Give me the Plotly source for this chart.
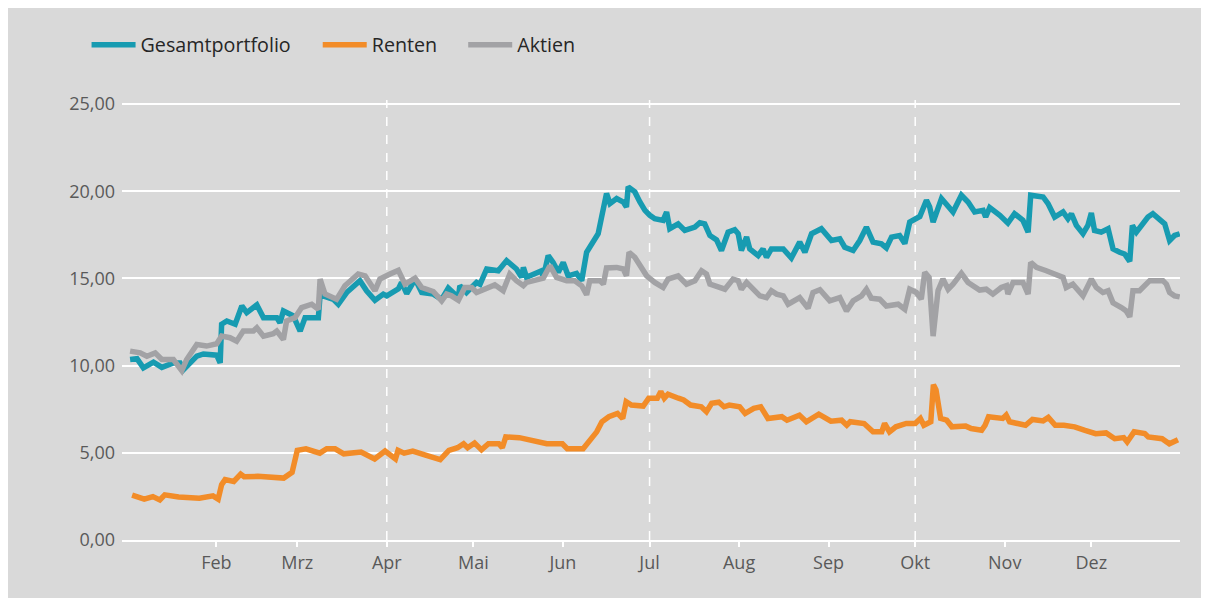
import pandas as pd
import plotly.graph_objects as go

# ---- data (day offsets from 1 Jan, values) ----
gesamt_days = [1.1, 3.5, 5.7, 9.2, 12.1, 16.1, 18.4, 19.6, 24.2, 26.5, 31.1, 32.3, 32.8, 34.6, 37.5, 39.8, 41.5, 45, 47.3, 51.9, 53, 54.2, 57.6, 60, 61.7, 66.3, 66.9, 71.5, 73.2, 76.1, 80.7, 83, 85.9, 88.8, 90, 94, 95.1, 96.9, 99.8, 102.1, 106.1, 109, 111.3, 114.8, 115.3, 117.6, 121.1, 122.3, 124.6, 128.6, 131.5, 134.9, 136.7, 137.3, 138.4, 141.9, 143.6, 144.2, 145.9, 147.6, 149.4, 151.1, 152.8, 155.7, 157.5, 159.2, 161.5, 163.2, 164.4, 166.1, 167.3, 169.6, 171.9, 173, 173.6, 175.9, 177.6, 179.4, 181.1, 182.8, 185.7, 186.9, 188, 190.9, 193.2, 194.9, 196.7, 198.4, 200.1, 201.9, 204.2, 205.9, 208.2, 210.5, 211.7, 212.8, 214.6, 215.7, 218.6, 220.3, 221.5, 223.2, 227.3, 230.1, 233, 234.8, 237.1, 240.5, 244, 246.9, 248.6, 251.5, 253.8, 256.1, 258.4, 261.3, 263, 264.8, 267.6, 269.4, 271.1, 274.6, 276.9, 278, 279.2, 282.1, 283.8, 286.1, 289, 291.3, 293.6, 296.5, 297.4, 298.8, 302.3, 305.1, 307.4, 310.3, 312.1, 313, 317.3, 319, 321.3, 324.2, 325.9, 327.1, 328.8, 331.1, 332.8, 334, 335.1, 337.4, 339.8, 341.5, 343.8, 345.5, 347.3, 348.2, 349.6, 351.3, 353.6, 355.3, 357.1, 359.4, 361.1, 362.8, 364.6]
gesamt_vals = [10.35, 10.4, 9.87, 10.2, 9.9, 10.15, 10.15, 9.77, 10.54, 10.67, 10.6, 10.15, 12.37, 12.56, 12.37, 13.42, 13.04, 13.48, 12.75, 12.75, 12.46, 13.13, 12.85, 11.98, 12.75, 12.75, 14.05, 13.8, 13.52, 14.19, 14.87, 14.29, 13.75, 14.1, 14.0, 14.4, 14.77, 14.13, 14.96, 14.19, 14.1, 13.8, 14.44, 13.9, 14.58, 14.19, 14.77, 14.67, 15.54, 15.44, 16.02, 15.54, 15.06, 15.63, 15.06, 15.35, 15.44, 15.06, 16.31, 15.92, 15.35, 15.92, 15.15, 15.29, 14.87, 16.5, 17.08, 17.56, 18.52, 19.87, 19.29, 19.58, 19.38, 19.1, 20.25, 19.96, 19.4, 18.9, 18.62, 18.42, 18.33, 18.81, 17.85, 18.13, 17.75, 17.85, 17.94, 18.19, 18.13, 17.46, 17.21, 16.6, 17.65, 17.79, 17.56, 16.6, 17.37, 16.69, 16.31, 16.69, 16.21, 16.69, 16.69, 16.17, 17.08, 16.5, 17.56, 17.85, 17.17, 17.27, 16.79, 16.6, 17.17, 17.94, 17.08, 16.98, 16.75, 17.37, 17.46, 17.0, 18.23, 18.55, 19.48, 19.1, 18.23, 19.58, 19.29, 18.81, 19.77, 19.38, 18.81, 18.9, 18.52, 19.06, 18.62, 18.17, 18.71, 18.33, 17.65, 19.77, 19.67, 19.29, 18.52, 18.81, 18.42, 18.71, 18.04, 17.56, 18.04, 18.75, 17.75, 17.65, 17.85, 16.69, 16.5, 16.4, 15.98, 18.04, 17.65, 18.04, 18.52, 18.71, 18.42, 18.13, 17.17, 17.46, 17.56]

renten_days = [1.8, 6, 9, 11.4, 13.1, 17.9, 25.1, 29.8, 31.6, 32.8, 34, 37, 39.4, 40.6, 45.3, 51.9, 54.3, 57.2, 59, 62, 66.8, 69.2, 72.1, 75.1, 81.1, 85.8, 89.4, 93, 93.9, 96, 99, 103.7, 108.5, 111.5, 114.5, 116.6, 118, 120.4, 122.8, 125.2, 128.8, 130, 131.2, 135.9, 138.3, 145.4, 150.8, 152.5, 158, 159.8, 162.7, 164.5, 166.9, 169.9, 171.7, 172.9, 174.7, 178.8, 180.7, 183.7, 184.9, 186.1, 187.4, 191, 192.8, 195.2, 198.9, 200.7, 202.5, 205, 206.8, 208.6, 212.2, 214.1, 217.1, 219.5, 222, 226.8, 228.6, 232.9, 235.3, 239.6, 243.8, 247.5, 249.3, 250.5, 255.3, 258.4, 261.4, 262.4, 264.1, 266.3, 269.9, 273, 274.8, 276, 278.4, 279.3, 280.2, 281.8, 283.9, 285.7, 290.5, 292.4, 296, 297.2, 298.4, 303.3, 304.5, 305.7, 311.2, 313.6, 317.3, 319.1, 321.5, 324.5, 328.2, 331.8, 335.5, 339.1, 342.1, 345.2, 346.4, 348.8, 352.5, 353.7, 358.5, 361, 364]
renten_vals = [2.57, 2.34, 2.49, 2.3, 2.59, 2.47, 2.39, 2.53, 2.34, 3.17, 3.46, 3.36, 3.78, 3.63, 3.65, 3.59, 3.55, 3.88, 5.14, 5.23, 4.98, 5.23, 5.23, 4.94, 5.04, 4.65, 5.1, 4.65, 5.14, 4.98, 5.1, 4.85, 4.61, 5.14, 5.29, 5.52, 5.29, 5.56, 5.17, 5.52, 5.52, 5.29, 5.91, 5.87, 5.77, 5.52, 5.52, 5.23, 5.23, 5.62, 6.2, 6.78, 7.07, 7.26, 6.97, 7.93, 7.74, 7.68, 8.13, 8.13, 8.51, 8.13, 8.36, 8.13, 8.03, 7.74, 7.64, 7.36, 7.84, 7.9, 7.64, 7.74, 7.64, 7.26, 7.55, 7.64, 6.97, 7.07, 6.87, 7.16, 6.78, 7.22, 6.81, 6.87, 6.58, 6.78, 6.68, 6.2, 6.2, 6.68, 6.2, 6.49, 6.68, 6.68, 6.97, 6.58, 6.78, 8.9, 8.61, 6.97, 6.87, 6.49, 6.53, 6.39, 6.29, 6.58, 7.07, 6.97, 7.16, 6.78, 6.58, 6.91, 6.83, 7.03, 6.58, 6.58, 6.49, 6.29, 6.1, 6.14, 5.81, 5.87, 5.62, 6.2, 6.1, 5.91, 5.81, 5.52, 5.75]

aktien_days = [1.1, 4.6, 6.9, 9.8, 12.1, 16.1, 19, 20.7, 24.2, 27.6, 31.1, 32.8, 35.7, 38, 40.3, 43.8, 45, 47.3, 50.7, 51.9, 54.2, 55.3, 58.2, 60.5, 64, 66.3, 66.9, 68.6, 72.6, 75.5, 80.1, 82.5, 85.9, 87.6, 91.1, 94, 96.3, 99.8, 102.1, 106.1, 109, 110.7, 112.4, 114.8, 117, 119.4, 121.1, 123.4, 127.4, 130.3, 132.6, 134.9, 137.3, 138.4, 140.7, 144.2, 146.5, 148.8, 152.3, 155.1, 157.5, 159.2, 160.3, 163.8, 165, 166.1, 169.6, 171.9, 173, 173.9, 175.9, 178.2, 180, 182.8, 185.7, 187.4, 190.9, 193.8, 196.7, 199, 200.7, 201.9, 207.1, 209.9, 211.7, 212.8, 214.6, 219.2, 221.5, 223.2, 225, 227.3, 229, 233, 235.9, 237.6, 240, 243.4, 246.9, 249.2, 251.5, 254.4, 256.1, 257.8, 260.7, 263, 267.1, 269.4, 271.1, 273.4, 275.1, 276.3, 277.8, 279.2, 280.9, 282.6, 284.4, 286.1, 289, 291.3, 293, 295.3, 297.6, 299.9, 302.8, 304.6, 305.1, 306.9, 310.3, 312.1, 313, 315, 318.4, 321.9, 324.2, 325.3, 327.6, 331.1, 334, 335.7, 338, 339.8, 341.5, 344.4, 346.1, 347.3, 348.4, 350.7, 353, 354.2, 358.8, 360, 361.1, 362.8, 364.6]
aktien_vals = [10.83, 10.73, 10.54, 10.73, 10.35, 10.35, 9.71, 10.35, 11.21, 11.12, 11.25, 11.69, 11.6, 11.4, 11.98, 11.98, 12.17, 11.69, 11.83, 11.98, 11.5, 12.56, 12.75, 13.33, 13.52, 13.23, 14.96, 14.1, 13.8, 14.58, 15.25, 15.15, 14.29, 14.96, 15.25, 15.46, 14.67, 15.02, 14.48, 14.25, 13.71, 14.1, 14.0, 13.75, 14.48, 14.48, 14.19, 14.38, 14.63, 14.29, 15.25, 14.87, 14.58, 14.77, 14.87, 15.02, 15.73, 15.06, 14.87, 14.87, 14.58, 14.06, 14.87, 14.87, 14.67, 15.6, 15.63, 15.54, 15.15, 16.5, 16.21, 15.54, 15.15, 14.77, 14.48, 14.96, 15.15, 14.67, 14.87, 15.44, 15.25, 14.67, 14.38, 14.96, 14.87, 14.38, 14.77, 14.0, 13.9, 14.29, 14.1, 14.0, 13.52, 13.9, 13.29, 14.19, 14.35, 13.71, 13.9, 13.13, 13.71, 14.0, 14.38, 13.87, 13.81, 13.42, 13.52, 13.23, 14.38, 14.19, 13.81, 15.35, 15.06, 11.69, 14.29, 14.96, 14.38, 14.67, 15.29, 14.77, 14.58, 14.33, 14.38, 14.1, 14.48, 14.58, 14.1, 14.77, 14.77, 14.1, 15.92, 15.63, 15.44, 15.21, 15.06, 14.48, 14.67, 14.0, 14.96, 14.48, 14.19, 14.29, 13.6, 13.33, 13.13, 12.79, 14.29, 14.29, 14.67, 14.87, 14.87, 14.67, 14.19, 14.0, 13.94]

month_starts = ["2021-02-01", "2021-03-01", "2021-04-01", "2021-05-01", "2021-06-01", "2021-07-01",
                "2021-08-01", "2021-09-01", "2021-10-01", "2021-11-01", "2021-12-01"]
month_labels = ["Feb", "Mrz", "Apr", "Mai", "Jun", "Jul", "Aug", "Sep", "Okt", "Nov", "Dez"]
quarter_starts = ["2021-04-01", "2021-07-01", "2021-10-01"]
y_ticks = [0, 5, 10, 15, 20, 25]

base = pd.Timestamp("2021-01-01")
def to_dates(days):
    return base + pd.to_timedelta(days, unit="D")

series = [
    ("Gesamtportfolio", gesamt_days, gesamt_vals, "#179BB1", "legend"),
    ("Renten", renten_days, renten_vals, "#F28C28", "legend2"),
    ("Aktien", aktien_days, aktien_vals, "#A2A2A5", "legend3"),
]

fig = go.Figure()
for name, d, v, c, lg in series:
    fig.add_trace(go.Scatter(x=to_dates(d), y=v, mode="lines", name=name, legend=lg,
                             line=dict(color=c, width=5.5, shape="linear")))

for q in quarter_starts:
    fig.add_shape(type="line", xref="x", yref="paper", x0=q, x1=q, y0=0, y1=1,
                  line=dict(color="white", width=1.5, dash="dash"), layer="below")

font_family = "Open Sans, Noto Sans, sans-serif"
x_lo = base + pd.Timedelta(days=-1.7)
x_hi = base + pd.Timedelta(days=364.7)

legend_style = dict(orientation="h", xanchor="left", y=1.125, yanchor="middle",
                    font=dict(size=19.7, color="#262626"), bgcolor="rgba(0,0,0,0)",
                    itemwidth=44)

fig.update_layout(
    width=1209, height=598,
    paper_bgcolor="#D9D9D9", plot_bgcolor="#D9D9D9",
    margin=dict(l=114, r=37, t=92, b=66),
    separators=", ",
    font=dict(family=font_family, size=18, color="#595959"),
    showlegend=True,
    legend=dict(x=-0.0335, **legend_style),
    legend2=dict(x=0.1850, **legend_style),
    legend3=dict(x=0.3225, **legend_style),
    xaxis=dict(type="date", range=[x_lo, x_hi], tickvals=month_starts, ticktext=month_labels,
               showgrid=False, zeroline=False, showline=True, linecolor="white", linewidth=2,
               ticks="outside", tickcolor="white", ticklen=5, tickwidth=1.5,
               tickfont=dict(size=18, color="#595959")),
    yaxis=dict(range=[0, 25.23], tickvals=y_ticks, tickformat=".2f",
               showgrid=True, gridcolor="white", gridwidth=2, zeroline=False,
               showline=False, ticks="", ticklabelstandoff=6,
               tickfont=dict(size=18, color="#595959")),
)

fig.write_html("out.html")
